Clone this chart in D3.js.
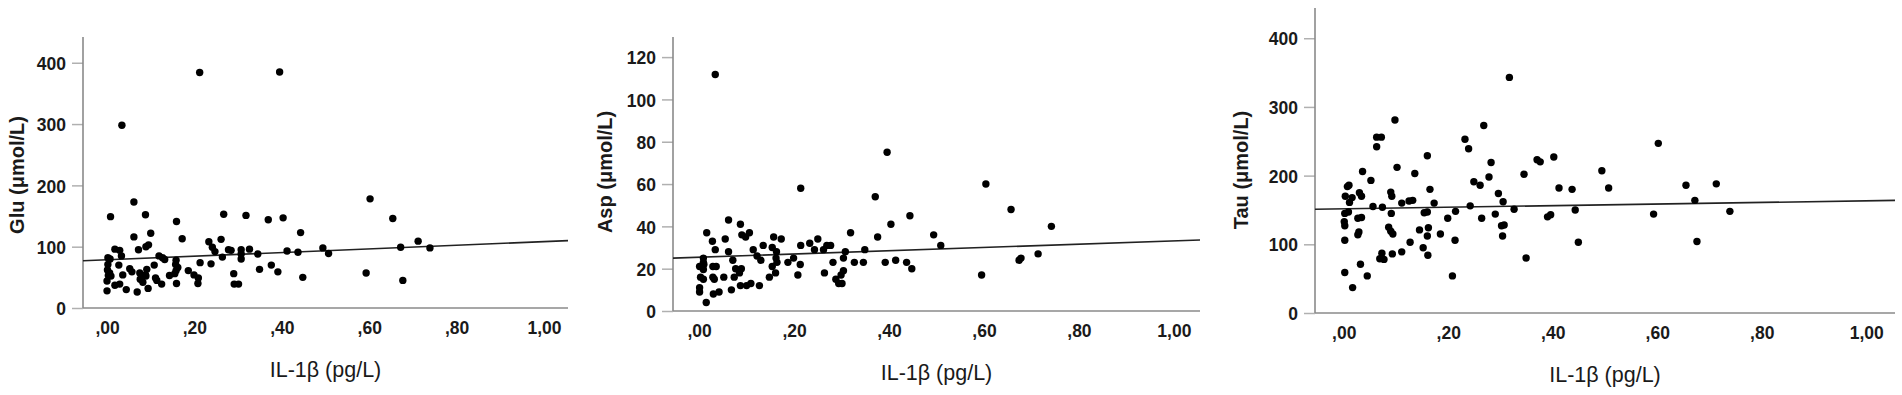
<!DOCTYPE html>
<html>
<head>
<meta charset="utf-8">
<script src="https://cdn.jsdelivr.net/npm/d3@7"></script>
<style>
  body { margin: 0; background: #fff; }
  .tick-label { font-family: "Liberation Sans Narrow", "Arial Narrow", "Liberation Sans", sans-serif; font-weight: bold; font-size: 17.5px; fill: #1a1a1a; }
  .ytitle { font-family: "Liberation Sans", Arial, sans-serif; font-weight: bold; font-size: 20px; fill: #1a1a1a; }
  .xtitle { font-family: "Liberation Sans", Arial, sans-serif; font-size: 21.5px; fill: #1a1a1a; }
</style>
</head>
<body>
<script>
// IL-1β values and amino acid levels
let xTicks = [0, 0.2, 0.4, 0.6, 0.8, 1.0];

let gluX = [0.212,0.395,0.034,0.0615,0.008,0.088,0.159,0.267,0.318,0.369,0.403,0.602,0.654,0.443,0.0615,0.10,0.172,0.233,0.261,0.095,0.089,0.712,0.018,0.029,0.033,0.072,0.241,0.247,0.278,0.284,0.307,0.326,0.307,0.307,0.345,0.412,0.437,0.494,0.507,0.672,0.739,0.002,0.007,0.002,0.119,0.132,0.127,0.158,0.157,0.162,0.264,0.213,0.238,0.376,0.391,0.349,0.027,0.108,0.001,0.006,0.003,0.009,0.0,0.036,0.052,0.057,0.075,0.076,0.088,0.091,0.089,0.111,0.114,0.094,0.069,0.018,0.029,0.044,0.0,0.125,0.143,0.155,0.158,0.159,0.186,0.199,0.209,0.208,0.290,0.291,0.301,0.448,0.593,0.677,0.082];
let gluY = [384,385,298,173,149,152,141,153,151,144,147,178,146,123,116,122,113,108,112,103,100,109,96,94,85,95,99,92,95,94,95,96,88,80,88,93,91,98,89,99,98,82,80,71,85,79,82,78,71,66,83,74,72,70,59,63,70,70,62,57,53,52,44,54,64,59,57,47,54,63,52,49,45,32,26,37,39,30,28,39,53,56,61,40,61,54,49,40,56,39,39,50,57,45,42];

let aspX = [0.034,0.396,0.214,0.371,0.604,0.657,0.444,0.062,0.087,0.404,0.742,0.016,0.106,0.098,0.090,0.319,0.376,0.494,0.028,0.055,0.157,0.173,0.250,0.135,0.154,0.214,0.233,0.243,0.269,0.277,0.509,0.034,0.062,0.114,0.122,0.163,0.262,0.308,0.349,0.304,0.009,0.009,0.071,0.130,0.162,0.199,0.213,0.187,0.164,0.327,0.346,0.392,0.414,0.437,0.448,0.282,0.674,0.678,0.714,0.001,0.010,0.029,0.036,0.077,0.089,0.154,0.161,0.148,0.208,0.264,0.304,0.299,0.595,0.009,0.003,0.009,0.029,0.032,0.052,0.074,0.068,0.087,0.100,0.109,0.127,0.288,0.294,0.301,0.001,0.001,0.030,0.042,0.015,0.085];
let aspY = [111.8,75,58,54,60,48,45,43,41,41,40,37,37,35,36,37,35,36,33,34,35,34,34,31,30,31,32,29,31,31,31,29,28,29,26,28,29,28,29,25,25,23,24,24,25,25,22,23,23,23,23,23,24,23,20,23,24,25,27,21,22,21,21,20,20,21,18,16,17,18,19,17,17,19.6,16,15,16,15,16,16,10,12,12,13,12,15,13,13,11,9,8,9,4,18];

let tauX = [0.317,0.098,0.268,0.063,0.072,0.063,0.232,0.239,0.602,0.160,0.282,0.370,0.376,0.402,0.036,0.102,0.136,0.278,0.345,0.494,0.052,0.249,0.261,0.655,0.713,0.007,0.010,0.030,0.034,0.090,0.092,0.165,0.296,0.412,0.437,0.507,0.003,0.016,0.011,0.111,0.125,0.132,0.173,0.305,0.672,0.056,0.074,0.242,0.326,0.443,0.739,0.002,0.009,0.091,0.154,0.160,0.264,0.290,0.214,0.199,0.027,0.034,0.390,0.396,0.593,0.001,0.002,0.307,0.302,0.086,0.090,0.094,0.145,0.162,0.160,0.185,0.304,0.029,0.027,0.002,0.127,0.213,0.449,0.676,0.152,0.111,0.093,0.073,0.161,0.069,0.077,0.349,0.032,0.002,0.045,0.208,0.017];
let tauY = [343,281,273,256,256,242,253,239,247,229,219,223,220,227,206,212,203,198,202,207,193,191,186,186,188,184,186,175,170,176,170,180,174,182,180,182,170,168,161,160,163,164,160,162,164,155,154,156,151,150,148,145,147,145,146,147,138,144,148,138,138,139,140,143,144,133,127,128,127,125,119,115,121,124,112,115,112,118,114,106,103,106,103,104,95,89,86,87,84,79,78,80,71,59,54,54,37];

// fit lines (intercept, slope) as drawn in the reference
let fitIntercept = [78.6, 25.4, 151.6];
let fitSlope = [29.7, 7.7, 11.7];

let yTitles = ["Glu (μmol/L)", "Asp (μmol/L)", "Tau (μmol/L)"];
let yTicks = [[0,100,200,300,400], [0,20,40,60,80,100,120], [0,100,200,300,400]];
let yMax = [442, 129.5, 444];
let xTitle = "IL-1β (pg/L)";

let panels = [
  {xs: gluX, ys: gluY, left: 83, right: 568, top: 37, bottom: 308, titleX: 17, titleY: 175},
  {xs: aspX, ys: aspY, left: 673, right: 1200, top: 37, bottom: 311, titleX: 605, titleY: 172},
  {xs: tauX, ys: tauY, left: 1315, right: 1895, top: 8, bottom: 313, titleX: 1241, titleY: 170}
];

let svg = d3.select("body")
            .append("svg")
            .attr("width", 1902)
            .attr("height", 395);

let fmt = v => d3.format(".2f")(v).replace(".", ",").replace(/^0,/, ",");

// squeeze tick labels so they look like the narrow SPSS font
function narrow(sel) {
    sel.each(function() {
        let w = this.getComputedTextLength();
        if (w > 0 && !/Narrow/.test(getComputedStyle(this).fontFamily.split(",")[0]) ) {
            d3.select(this).attr("textLength", w * 0.84).attr("lengthAdjust", "spacingAndGlyphs");
        }
    });
}

panels.forEach(function(p, i) {
    let x = d3.scaleLinear().domain([-0.055, 1.055]).range([p.left, p.right]);
    let y = d3.scaleLinear().domain([0, yMax[i]]).range([p.bottom, p.top]);
    let g = svg.append("g");

    // y axis
    let ya = g.append("g")
              .attr("transform", "translate(" + p.left + ",0)")
              .call(d3.axisLeft(y).tickValues(yTicks[i]).tickSize(11).tickPadding(6));
    ya.select(".domain").remove();
    ya.selectAll("line").attr("stroke", "#b0b0b0").attr("stroke-width", 1.5);
    ya.selectAll("text").attr("class", "tick-label").attr("dy", "0.38em").call(narrow);

    // x axis
    let xa = g.append("g")
              .attr("transform", "translate(0," + p.bottom + ")")
              .call(d3.axisBottom(x).tickValues(xTicks).tickFormat(fmt).tickSize(0).tickPadding(14));
    xa.select(".domain").remove();
    xa.selectAll("text").attr("class", "tick-label").attr("dy", "0.71em").call(narrow);

    // axis lines
    g.append("line")
     .attr("x1", p.left).attr("x2", p.left)
     .attr("y1", p.top).attr("y2", p.bottom)
     .style("stroke", "#8a8a8a").style("stroke-width", 1.6);
    g.append("line")
     .attr("x1", p.left).attr("x2", p.right)
     .attr("y1", p.bottom).attr("y2", p.bottom)
     .style("stroke", "#8a8a8a").style("stroke-width", 1.6);

    // fit line across the whole x range
    let d0 = x.domain()[0], d1 = x.domain()[1];
    g.append("line")
     .attr("x1", x(d0)).attr("y1", y(fitIntercept[i] + fitSlope[i] * d0))
     .attr("x2", x(d1)).attr("y2", y(fitIntercept[i] + fitSlope[i] * d1))
     .style("stroke", "#222").style("stroke-width", 1.6);

    // points
    g.append("g")
     .selectAll("circle")
     .data(d3.range(p.xs.length))
     .enter()
     .append("circle")
     .attr("cx", k => x(p.xs[k]))
     .attr("cy", k => y(p.ys[k]))
     .attr("r", 3.7)
     .style("fill", "#000");

    // titles
    g.append("text")
     .attr("class", "ytitle")
     .attr("transform", "translate(" + (p.titleX + 7) + "," + p.titleY + ") rotate(-90)")
     .style("text-anchor", "middle")
     .text(yTitles[i]);
    g.append("text")
     .attr("class", "xtitle")
     .attr("x", (p.left + p.right) / 2)
     .attr("y", p.bottom + 69)
     .style("text-anchor", "middle")
     .text(xTitle);
});
</script>
</body>
</html>
